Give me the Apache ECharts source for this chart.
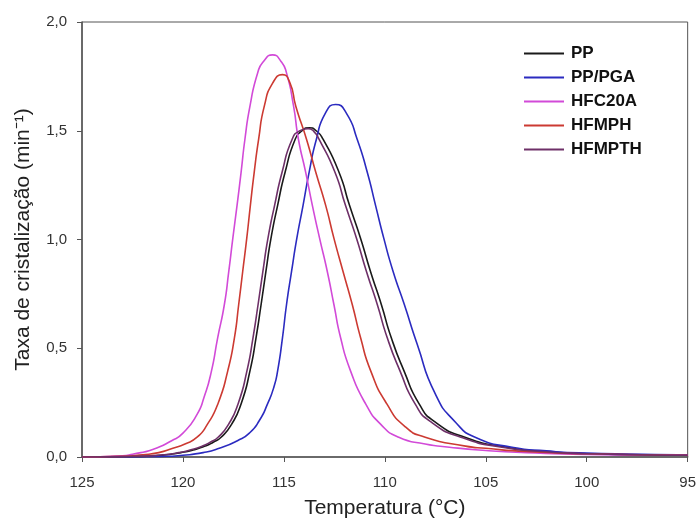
<!DOCTYPE html>
<html>
<head>
<meta charset="utf-8">
<script src="https://cdn.jsdelivr.net/npm/echarts@6/dist/echarts.min.js"></script>
<style>
  html, body { margin: 0; padding: 0; background: #fff; }
  #chart { width: 699px; height: 524px; }
</style>
</head>
<body>
<div id="chart"></div>
<script>
// curvas (temperatura em °C, taxa em min^-1)
var names = ['PP', 'PP/PGA', 'HFC20A', 'HFMPH', 'HFMPTH'];
var colors = ['#1a1a1a', '#2b2bc0', '#d24ad8', '#cc3a32', '#6e3068'];

var ppT = [125, 122, 121, 120.1, 119.5, 118.9, 118.5, 118.11, 117.6, 117.12, 116.68, 116.38, 116.13, 115.89, 115.64, 115.31, 114.94, 114.44, 114.1, 113.75, 113.4, 113.06, 112.27, 111.75, 111.2, 110.71, 110.17, 109.68, 109.05, 108.3, 107.5, 106, 104, 102, 100, 95];
var ppV = [0, 0.003, 0.008, 0.02, 0.032, 0.05, 0.068, 0.091, 0.149, 0.244, 0.396, 0.548, 0.7, 0.853, 1.005, 1.157, 1.309, 1.461, 1.5, 1.514, 1.5, 1.461, 1.309, 1.157, 1.005, 0.853, 0.7, 0.548, 0.396, 0.244, 0.16, 0.09, 0.045, 0.025, 0.015, 0.008];

var pgaT = [125, 121, 120, 119, 118.2, 117.3, 116.71, 116.2, 115.81, 115.5, 115.31, 115.07, 114.87, 114.62, 114.36, 114.05, 113.75, 113.39, 112.95, 112.44, 111.9, 111.37, 110.87, 110.46, 110.05, 109.59, 109.03, 108.4, 107.5, 106.5, 105.5, 103.7, 102, 100, 95];
var pgaV = [0, 0.003, 0.008, 0.02, 0.04, 0.075, 0.11, 0.17, 0.244, 0.32, 0.396, 0.548, 0.7, 0.853, 1.005, 1.157, 1.309, 1.461, 1.58, 1.621, 1.58, 1.461, 1.309, 1.157, 1.005, 0.853, 0.7, 0.52, 0.29, 0.16, 0.09, 0.045, 0.028, 0.018, 0.01];

var hfcT = [125, 123, 122.5, 121.5, 120.56, 120, 119.3, 118.95, 118.6, 118.28, 117.95, 117.73, 117.53, 117.32, 117.12, 116.93, 116.68, 116.3, 116, 115.56, 115.15, 114.87, 114.52, 114.28, 113.92, 113.59, 113.23, 112.85, 112.52, 112.19, 111.7, 110.95, 110.2, 109.31, 108, 106.8, 105, 103, 100, 95];
var hfcV = [0, 0.006, 0.013, 0.035, 0.075, 0.11, 0.196, 0.276, 0.39, 0.548, 0.7, 0.853, 1.005, 1.157, 1.309, 1.461, 1.613, 1.766, 1.82, 1.849, 1.82, 1.766, 1.613, 1.461, 1.309, 1.157, 1.005, 0.853, 0.7, 0.548, 0.396, 0.244, 0.15, 0.091, 0.06, 0.045, 0.03, 0.02, 0.012, 0.008];

var hfmphT = [125, 123, 122, 121.2, 120.5, 119.9, 119.3, 118.8, 118.27, 117.78, 117.45, 117.24, 117.04, 116.84, 116.66, 116.47, 116.25, 115.97, 115.55, 115.07, 114.7, 114.41, 113.88, 113.42, 112.93, 112.52, 112.07, 111.61, 111.2, 110.7, 109.9, 109, 108, 106, 105, 103, 100, 95];
var hfmphV = [0, 0.003, 0.01, 0.02, 0.04, 0.06, 0.091, 0.149, 0.244, 0.396, 0.548, 0.7, 0.853, 1.005, 1.157, 1.309, 1.461, 1.613, 1.72, 1.758, 1.72, 1.613, 1.461, 1.309, 1.157, 1.005, 0.853, 0.7, 0.548, 0.396, 0.244, 0.14, 0.091, 0.05, 0.04, 0.025, 0.015, 0.008];

var hfmpthT = [125, 122, 121, 120.2, 119.65, 119.05, 118.65, 118.26, 117.75, 117.27, 116.83, 116.53, 116.28, 116.04, 115.79, 115.46, 115.09, 114.59, 114.2, 113.8, 113.5, 113.26, 112.47, 111.95, 111.4, 110.91, 110.37, 109.88, 109.25, 108.5, 107.7, 106.2, 104.2, 102, 100, 95];
var hfmpthV = [0, 0.004, 0.01, 0.02, 0.032, 0.05, 0.068, 0.091, 0.149, 0.244, 0.396, 0.548, 0.7, 0.853, 1.005, 1.157, 1.309, 1.461, 1.5, 1.51, 1.495, 1.461, 1.309, 1.157, 1.005, 0.853, 0.7, 0.548, 0.396, 0.244, 0.16, 0.09, 0.045, 0.024, 0.015, 0.008];

var allT = [ppT, pgaT, hfcT, hfmphT, hfmpthT];
var allV = [ppV, pgaV, hfcV, hfmphV, hfmpthV];

function pares(t, v) {
    var out = [];
    for (var i = 0; i < t.length; i++) out.push([t[i], v[i]]);
    return out;
}

var series = [];
for (var k = 0; k < names.length; k++) {
    series.push({
        name: names[k],
        type: 'line',
        data: pares(allT[k], allV[k]),
        smooth: 0.6,
        symbol: 'none',
        lineStyle: { color: colors[k], width: 1.6 },
        itemStyle: { color: colors[k] }
    });
}

var fonte = 'Liberation Sans, Arial';
var chart = echarts.init(document.getElementById('chart'));
chart.setOption({
    animation: false,
    backgroundColor: '#fff',
    grid: {
        left: 82, right: 9, top: 22, bottom: 64,
        show: true, borderColor: '#555', borderWidth: 1
    },
    legend: {
        orient: 'vertical',
        left: 524, top: 45,
        padding: 0,
        itemWidth: 40, itemHeight: 2, itemGap: 7,
        icon: 'rect',
        data: names,
        textStyle: { fontFamily: fonte, fontWeight: 'bold', fontSize: 17, color: '#111', padding: [0, 0, 0, 2] }
    },
    xAxis: {
        type: 'value',
        min: 95, max: 125, interval: 5,
        inverse: true,
        name: 'Temperatura (°C)',
        nameLocation: 'middle',
        nameGap: 41,
        nameTextStyle: { fontFamily: fonte, fontSize: 21, color: '#222' },
        axisLine: { lineStyle: { color: '#555', width: 1.5 } },
        axisTick: { length: 5, lineStyle: { color: '#555' } },
        axisLabel: { fontFamily: fonte, fontSize: 15, color: '#333', margin: 18 },
        splitLine: { show: false }
    },
    yAxis: {
        type: 'value',
        min: 0, max: 2, interval: 0.5,
        name: 'Taxa de cristalização (min⁻¹)',
        nameLocation: 'middle',
        nameGap: 48,
        nameTextStyle: { fontFamily: fonte, fontSize: 21, color: '#222' },
        axisLine: { lineStyle: { color: '#555', width: 1.5 } },
        axisTick: { length: 5, lineStyle: { color: '#555' } },
        axisLabel: {
            fontFamily: fonte, fontSize: 15, color: '#333', margin: 15,
            formatter: function (v) { return v.toFixed(1).replace('.', ','); }
        },
        splitLine: { show: false }
    },
    series: series
});
</script>
</body>
</html>
